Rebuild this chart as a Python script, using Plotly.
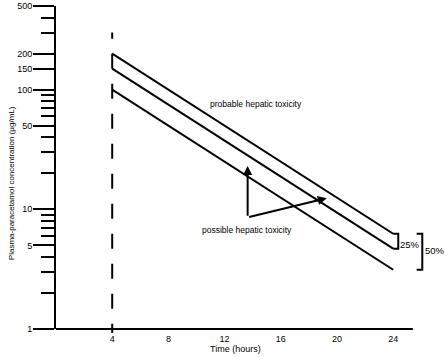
import numpy as np
import plotly.graph_objects as go

# ---- data ----
time_start = 4
time_end = 24
start_conc = [200, 150, 100]          # µg/mL at 4 h
end_conc = [6.25, 4.6875, 3.125]      # µg/mL at 24 h
x_ticks = [4, 8, 12, 16, 20, 24]
y_major = [1, 5, 10, 50, 100, 150, 200, 500]
y_minor = [2, 3, 4, 6, 7, 8, 9, 20, 30, 40, 60, 70, 80, 90, 300, 400]
dashed_x = [4, 4]
dashed_y = [0.83, 300]
bracket25_x = [24, 24.36, 24.36, 24]
bracket25_y = [6.25, 6.25, 4.6875, 4.6875]
bracket50_x = [25.67, 26.07, 26.07, 25.67]
bracket50_y = [6.25, 6.25, 3.125, 3.125]
arrow_base = (13.64, 8.58)
arrow_tips = [(13.64, 23.0), (19.27, 12.4)]

FONT = "Liberation Sans"
fig = go.Figure()

for s, e in zip(start_conc, end_conc):
    fig.add_trace(go.Scatter(x=[time_start, time_end], y=[s, e], mode="lines",
                             line=dict(color="black", width=2), showlegend=False,
                             hoverinfo="skip"))

fig.add_trace(go.Scatter(x=dashed_x, y=dashed_y, mode="lines",
                         line=dict(color="black", width=2, dash="15px,15px"), showlegend=False,
                         hoverinfo="skip"))
for bx, by in [(bracket25_x, bracket25_y), (bracket50_x, bracket50_y)]:
    fig.add_trace(go.Scatter(x=bx, y=by, mode="lines",
                             line=dict(color="black", width=2), showlegend=False,
                             hoverinfo="skip"))

# x-axis line (only up to ~25.4 h)
fig.add_shape(type="line", xref="x", yref="paper", x0=0, x1=25.4, y0=0, y1=0,
              line=dict(color="black", width=2))
fig.add_shape(type="line", xref="x", yref="paper", x0=4, x1=4, y0=-0.012, y1=0,
              line=dict(color="black", width=2))

annots = []
for tx, ty in arrow_tips:
    annots.append(dict(x=tx, y=np.log10(ty), ax=arrow_base[0], ay=np.log10(arrow_base[1]),
                       xref="x", yref="y", axref="x", ayref="y", showarrow=True,
                       arrowhead=2, arrowsize=0.9, arrowwidth=2, arrowcolor="black", text=""))
annots += [
    dict(x=14.23, y=np.log10(75.4), text="probable hepatic toxicity", showarrow=False,
         xref="x", yref="y", xanchor="center", yanchor="middle",
         font=dict(size=8.5, family=FONT, color="black")),
    dict(x=13.57, y=np.log10(6.7), text="possible hepatic toxicity", showarrow=False,
         xref="x", yref="y", xanchor="center", yanchor="middle",
         font=dict(size=8.5, family=FONT, color="black")),
    dict(x=25.16, y=np.log10(5.13), text="25%", showarrow=False,
         xref="x", yref="y", xanchor="center", yanchor="middle",
         font=dict(size=9.5, family=FONT, color="black")),
    dict(x=26.97, y=np.log10(4.49), text="50%", showarrow=False,
         xref="x", yref="y", xanchor="center", yanchor="middle",
         font=dict(size=9.5, family=FONT, color="black")),
    dict(x=-0.1135, y=0.45, xref="paper", yref="paper", text="Plasma-paracetamol concentration (µg/mL)",
         xanchor="center", yanchor="middle",
         textangle=-90, showarrow=False, font=dict(size=8, family=FONT, color="black")),
    dict(x=0.458, y=-0.063, xref="paper", yref="paper", text="Time (hours)",
         xanchor="center", yanchor="middle",
         showarrow=False, font=dict(size=9, family=FONT, color="black")),
]

fig.update_layout(
    width=448, height=357,
    margin=dict(l=56, r=0, t=6, b=28),
    plot_bgcolor="white", paper_bgcolor="white",
    font=dict(family=FONT, size=9, color="black"),
    annotations=annots,
    hovermode=False,
    xaxis=dict(range=[0, 27.9], tickmode="array", tickvals=x_ticks,
               ticktext=[str(v) for v in x_ticks], ticks="", showline=False,
               ticklabelstandoff=3,
               showgrid=False, zeroline=False, tickfont=dict(size=9, family=FONT)),
    yaxis=dict(type="log", range=[0, np.log10(500)], tickmode="array", tickvals=y_major,
               ticktext=[str(v) for v in y_major], ticks="outside", ticklen=21, tickwidth=2,
               tickcolor="black", showline=True, linewidth=2, linecolor="black",
               ticklabelstandoff=-1,
               showgrid=False, zeroline=False, tickfont=dict(size=9, family=FONT),
               minor=dict(tickmode="array", tickvals=y_minor, ticks="outside", ticklen=13,
                          tickwidth=2, tickcolor="black", showgrid=False)),
)

fig.write_html("out.html", post_script="document.body.style.margin='0';",
               config={"displayModeBar": False})
